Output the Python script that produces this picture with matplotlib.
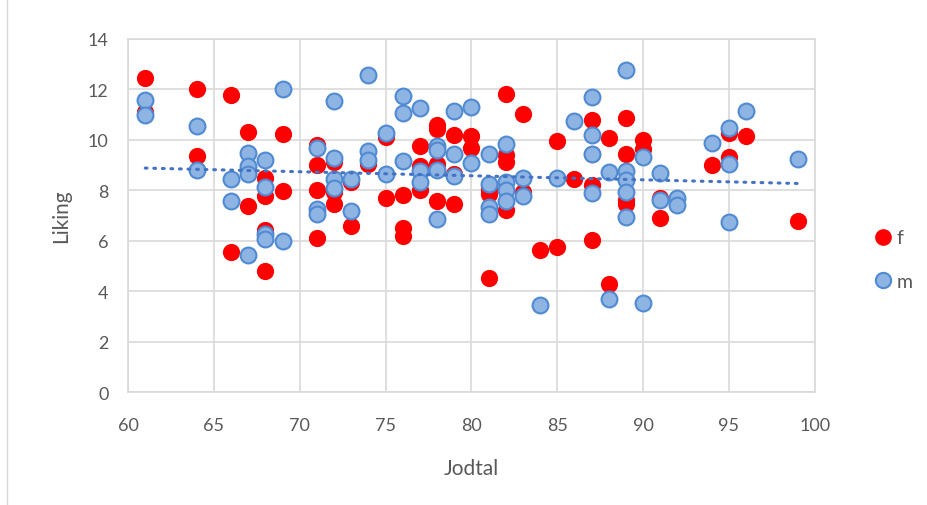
import numpy as np
import matplotlib.pyplot as plt
from matplotlib.lines import Line2D

# f series (red)
f_x = [61, 61, 64, 64, 66, 66, 67, 67, 68, 68, 68, 68, 69, 69,
       71, 71, 71, 71, 72, 72, 72, 73, 73, 74, 75, 75, 76, 76, 76,
       77, 77, 77, 78, 78, 78, 78, 79, 79, 79, 80, 80, 81, 81, 81,
       82, 82, 82, 82, 83, 83, 84, 85, 85, 86, 87, 87, 87, 87,
       88, 88, 89, 89, 89, 89, 90, 90, 91, 91, 94, 95, 95, 96, 99]
f_y = [12.44, 11.1, 12.02, 9.35, 11.77, 5.56, 10.33, 7.37, 8.48, 7.79, 6.41, 4.81, 10.25, 7.98,
       9.80, 9.01, 8.03, 6.10, 9.14, 7.93, 7.46, 8.32, 6.57, 9.05, 10.13, 7.69, 7.81, 6.51, 6.17,
       9.75, 8.98, 8.03, 10.57, 10.44, 9.05, 7.56, 10.21, 8.65, 7.44, 10.15, 9.67, 8.06, 7.86, 4.53,
       11.82, 9.38, 9.14, 7.20, 11.03, 7.93, 5.63, 9.97, 5.75, 8.43, 10.79, 9.45, 8.19, 6.02,
       10.09, 4.27, 10.85, 9.42, 7.60, 7.44, 10.0, 9.62, 7.69, 6.90, 9.01, 10.28, 9.31, 10.17, 6.77]

# m series (blue)
m_x = [61, 61, 64, 64, 66, 66, 67, 67, 67, 67, 68, 68, 68, 68, 69, 69,
       71, 71, 71, 72, 72, 72, 72, 73, 73, 74, 74, 74, 75, 75, 76, 76, 76,
       77, 77, 77, 78, 78, 78, 78, 79, 79, 79, 80, 80, 81, 81, 81, 81,
       82, 82, 82, 82, 83, 83, 84, 85, 86, 87, 87, 87, 87,
       88, 88, 89, 89, 89, 89, 89, 90, 90, 91, 91, 92, 92, 94, 95, 95, 95, 96, 99]
m_y = [11.59, 10.99, 10.55, 8.80, 8.43, 7.57, 9.47, 8.98, 8.63, 5.43, 9.22, 8.12, 6.25, 6.05, 12.01, 5.98,
       9.67, 7.27, 7.07, 11.55, 9.27, 8.45, 8.08, 8.45, 7.19, 12.59, 9.55, 9.21, 10.28, 8.65, 11.72, 11.07, 9.15,
       11.27, 8.75, 8.32, 9.74, 9.58, 8.82, 6.87, 11.15, 9.45, 8.55, 11.29, 9.09, 9.42, 8.24, 7.33, 7.07,
       9.84, 8.32, 8.02, 7.57, 8.48, 7.77, 3.47, 8.49, 10.75, 11.69, 10.20, 9.45, 7.90,
       8.72, 3.70, 12.76, 8.78, 8.39, 7.93, 6.96, 9.31, 3.54, 8.69, 7.60, 7.69, 7.42, 9.89, 10.46, 9.05, 6.74, 11.14, 9.23]

# linear trendline (m), end points
trend_x = [61, 99]
trend_y = [8.88, 8.27]

plt.rcParams['font.family'] = ['Lato', 'DejaVu Sans']
grey = '#595959'
gridc = '#d9d9d9'

fig = plt.figure(figsize=(9.28, 5.06), dpi=100)
ax = fig.add_axes([0.138, 0.2233, 0.740, 0.6977])

ax.scatter(f_x, f_y, s=130, color='#ff0000', edgecolor='#ff0000', linewidth=1, label='f', zorder=3)
ax.scatter(m_x, m_y, s=130, color='#8eb4e3', edgecolor='#4f8ad3', linewidth=1.5, label='m', zorder=4)

ax.plot(trend_x, trend_y, color='#4472c4', lw=2.2, linestyle=(0, (0.6, 2.2)),
        dash_capstyle='round', zorder=5)

ax.set_xlim(60, 100)
ax.set_ylim(0, 14)
ax.set_xticks(range(60, 101, 5))
ax.set_yticks(range(0, 15, 2))
ax.grid(True, color=gridc, lw=1.2)
ax.set_axisbelow(True)
for s in ax.spines.values():
    s.set_color(gridc)
    s.set_linewidth(1.2)
ax.tick_params(length=0, labelsize=13, colors=grey)
ax.tick_params(axis='x', pad=18)
ax.tick_params(axis='y', pad=14)
ax.set_xlabel('Jodtal', fontsize=15, color=grey, labelpad=18)
ax.set_ylabel('Liking', fontsize=15, color=grey, labelpad=12)

handles = [Line2D([], [], marker='o', ls='', ms=11, color='#ff0000'),
           Line2D([], [], marker='o', ls='', ms=11, markerfacecolor='#8eb4e3',
                  markeredgecolor='#4f8ad3', markeredgewidth=1.5)]
leg = fig.legend(handles, ['f', 'm'], loc='center left', bbox_to_anchor=(0.92, 0.485),
                 frameon=False, fontsize=14, labelspacing=1.35, handletextpad=0.1,
                 handlelength=1.2, labelcolor=grey)

fig.add_artist(Line2D([0.008, 0.008], [0, 1], color=gridc, lw=1, transform=fig.transFigure))

fig.savefig('out.png', dpi=100)
